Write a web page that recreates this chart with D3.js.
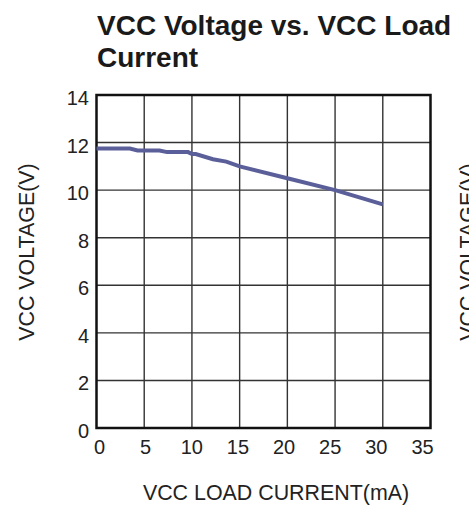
<!DOCTYPE html>
<html>
<head>
<meta charset="utf-8">
<script src="https://cdn.jsdelivr.net/npm/d3@7"></script>
<style>
  body { margin: 0; background: #fff; }
  svg { display: block; font-family: "Liberation Sans", Arial, sans-serif; }
</style>
</head>
<body>
<div id="chart"></div>
<script>
// load current (mA) vs VCC voltage (V)
var currentMA = [0, 3.5, 4.3, 6.6, 7.4, 9.6, 10.0, 10.4, 12.2, 13.6, 15, 20, 25, 30];
var vccVolts = [11.75, 11.75, 11.67, 11.67, 11.6, 11.6, 11.52, 11.52, 11.3, 11.2, 11.0, 10.5, 10.0, 9.4];

var xTicks = [0, 5, 10, 15, 20, 25, 30, 35];
var yTicks = [0, 2, 4, 6, 8, 10, 12, 14];

var titleLines = ["VCC Voltage vs. VCC Load", "Current"];
var xTitle = "VCC LOAD CURRENT(mA)";
var yTitle = "VCC VOLTAGE(V)";

var width = 469, height = 506;
var margin = { top: 95, right: 38.5, bottom: 78, left: 96.5 };

var svg = d3.select("#chart").append("svg")
    .attr("width", width)
    .attr("height", height);

var x = d3.scaleLinear().domain([0, 35]).range([margin.left, width - margin.right]);
var y = d3.scaleLinear().domain([0, 14]).range([height - margin.bottom, margin.top]);

// tick labels in the original sit slightly inside of the grid lines
var xLabelPos = d3.scaleLinear().domain([0, 35]).range([x(0) + 3, x(35) - 8]);

// title
svg.selectAll(".title")
    .data(titleLines)
    .enter()
    .append("text")
    .attr("class", "title")
    .attr("x", 97)
    .attr("y", (d, i) => 35 + i * 31.5)
    .attr("font-size", 28)
    .attr("font-weight", "bold")
    .attr("fill", "#1a1a1a")
    .text(d => d);

// grid
svg.selectAll(".vgrid")
    .data(xTicks.slice(1, -1))
    .enter()
    .append("line")
    .attr("x1", d => x(d)).attr("x2", d => x(d))
    .attr("y1", y(14)).attr("y2", y(0))
    .attr("stroke", "#333")
    .attr("stroke-width", 1.4);

svg.selectAll(".hgrid")
    .data(yTicks.slice(1, -1))
    .enter()
    .append("line")
    .attr("x1", x(0)).attr("x2", x(35))
    .attr("y1", d => y(d)).attr("y2", d => y(d))
    .attr("stroke", "#333")
    .attr("stroke-width", 1.4);

// frame
svg.append("rect")
    .attr("x", x(0)).attr("y", y(14))
    .attr("width", x(35) - x(0))
    .attr("height", y(0) - y(14))
    .attr("fill", "none")
    .attr("stroke", "#111")
    .attr("stroke-width", 2.5);

// curve
var line = d3.line()
    .x((d, i) => x(currentMA[i]))
    .y(d => y(d));

svg.append("path")
    .datum(vccVolts)
    .attr("d", line)
    .attr("fill", "none")
    .attr("stroke", "#5b5f99")
    .attr("stroke-width", 4);

// tick labels
svg.selectAll(".ylab")
    .data(yTicks)
    .enter()
    .append("text")
    .attr("x", 89)
    .attr("y", d => y(d) + 10)
    .attr("text-anchor", "end")
    .attr("font-size", 20)
    .attr("fill", "#222")
    .text(d => d);

svg.selectAll(".xlab")
    .data(xTicks)
    .enter()
    .append("text")
    .attr("x", d => xLabelPos(d))
    .attr("y", 454)
    .attr("text-anchor", "middle")
    .attr("font-size", 20)
    .attr("fill", "#222")
    .text(d => d);

// axis titles
svg.append("text")
    .attr("x", 276)
    .attr("y", 500)
    .attr("text-anchor", "middle")
    .attr("font-size", 21.4)
    .attr("fill", "#222")
    .text(xTitle);

svg.append("text")
    .attr("transform", "translate(34,252) rotate(-90)")
    .attr("text-anchor", "middle")
    .attr("font-size", 21.4)
    .attr("fill", "#222")
    .text(yTitle);

// neighbouring chart's axis title, cut off at the right edge as in the source
svg.append("text")
    .attr("transform", "translate(475,252) rotate(-90)")
    .attr("text-anchor", "middle")
    .attr("font-size", 21.4)
    .attr("fill", "#222")
    .text(yTitle);
</script>
</body>
</html>
